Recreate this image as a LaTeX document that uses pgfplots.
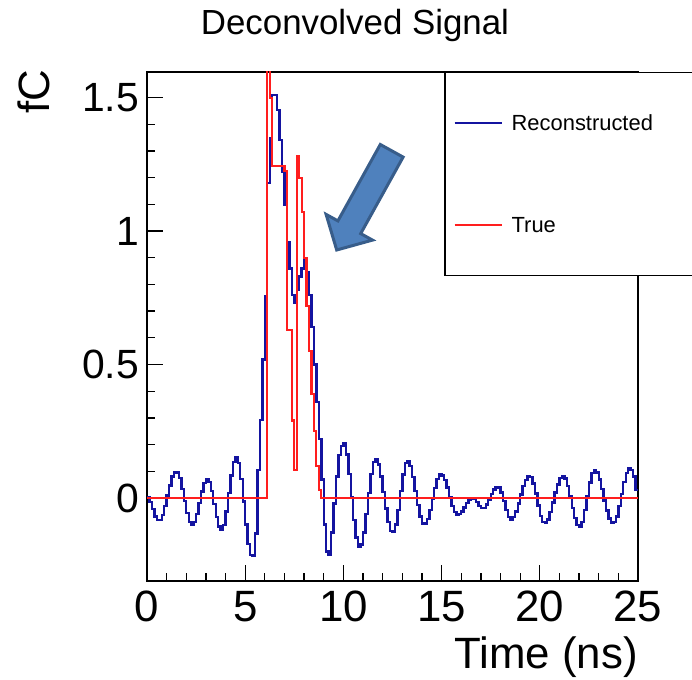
\documentclass[border=0pt]{standalone}
\usepackage{fontspec}
\setmainfont{Liberation Sans}
\usepackage{pgfplots}
\pgfplotsset{compat=1.18}
\definecolor{rootblue}{RGB}{20,20,160}
\definecolor{rootred}{RGB}{255,30,30}
\definecolor{arrowfill}{RGB}{79,129,189}
\definecolor{arrowedge}{RGB}{56,93,138}
\begin{document}
\begin{tikzpicture}
\path[use as bounding box] (0,0) rectangle (692bp,680bp);
\begin{axis}[
 at={(147bp,99bp)}, anchor=south west,
 scale only axis, width=491bp, height=509bp,
 xmin=0, xmax=25, ymin=-0.311, ymax=1.596,
 xtick={0,5,...,25}, ytick={0,0.5,1,1.5},
 minor x tick num=4, minor y tick num=4,
 tick pos=left, tick align=inside,
 major tick length=16bp, minor tick length=8bp,
 tick style={black, line width=1.3bp},
 axis line style={line width=2bp},
 /pgf/number format/assume math mode=true,
 xticklabel style={font=\fontsize{44}{48}\selectfont, inner sep=0pt, yshift=-10bp},
 yticklabel style={font=\fontsize{41}{46}\selectfont, inner sep=0pt, xshift=-8bp},
 title={Deconvolved Signal},
 title style={at={(rel axis cs:0.4236,1.0629)}, anchor=base, inner sep=0pt, font=\fontsize{35}{40}\selectfont},
 xlabel={Time (ns)},
 xlabel style={at={(rel axis cs:1,-0.171)}, anchor=base east, inner sep=0pt, font=\fontsize{44}{48}\selectfont},
 ylabel={fC},
 ylabel style={at={(rel axis cs:-0.1976,1.004)}, anchor=base east, inner sep=0pt, font=\fontsize{44}{50}\selectfont},
 legend style={at={(rel axis cs:0.6049,1)}, anchor=north west, draw=black, line width=1.5bp, fill=white,
   inner xsep=9bp, inner ysep=42bp, row sep=85bp, column sep=9bp,
   font=\fontsize{22}{26}\selectfont, nodes={inner sep=0pt}},
 legend cell align=left,
 legend image code/.code={\draw[#1] (0bp,0bp) -- (47bp,0bp);},
]
\addlegendimage{rootblue, line width=1.9bp}
\addlegendentry[text width=200bp]{Reconstructed}
\addlegendimage{rootred, line width=1.9bp}
\addlegendentry[text width=200bp]{True}
\addplot[rootblue, line width=2.4bp, const plot, no marks, forget plot] coordinates {
(0.0,0.003) (0.125,-0.015) (0.25,-0.041) (0.375,-0.069) (0.5,-0.083) (0.625,-0.082) (0.75,-0.063) (0.875,-0.030)
(1.0,0.009) (1.125,0.047) (1.25,0.080) (1.375,0.097) (1.5,0.096) (1.625,0.074) (1.75,0.034) (1.875,-0.012)
(2.0,-0.057) (2.125,-0.089) (2.25,-0.100) (2.375,-0.089) (2.5,-0.059) (2.625,-0.018) (2.75,0.024) (2.875,0.056)
(3.0,0.070) (3.125,0.060) (3.25,0.026) (3.375,-0.022) (3.5,-0.071) (3.625,-0.107) (3.75,-0.120) (3.875,-0.101)
(4.0,-0.050) (4.125,0.018) (4.25,0.085) (4.375,0.135) (4.5,0.153) (4.625,0.131) (4.75,0.071) (4.875,-0.013)
(5.0,-0.099) (5.125,-0.173) (5.25,-0.214) (5.375,-0.218) (5.5,-0.133) (5.625,0.105) (5.75,0.293) (5.875,0.519)
(6.0,0.757) (6.125,1.179) (6.25,1.348) (6.375,1.510) (6.5,1.510) (6.625,1.454) (6.75,1.341) (6.875,1.222)
(7.0,1.098) (7.125,0.960) (7.25,0.860) (7.375,0.760) (7.5,0.730) (7.625,0.780) (7.75,0.830) (7.875,0.860)
(8.0,0.894) (8.125,0.845) (8.25,0.760) (8.375,0.640) (8.5,0.500) (8.625,0.360) (8.75,0.220) (8.875,0.070)
(9.0,-0.100) (9.125,-0.200) (9.25,-0.214) (9.375,-0.130) (9.5,-0.020) (9.625,0.080) (9.75,0.160) (9.875,0.195)
(10.0,0.206) (10.125,0.163) (10.25,0.089) (10.375,0.004) (10.5,-0.082) (10.625,-0.148) (10.75,-0.181) (10.875,-0.174)
(11.0,-0.130) (11.125,-0.061) (11.25,0.018) (11.375,0.091) (11.5,0.135) (11.625,0.146) (11.75,0.126) (11.875,0.081)
(12.0,0.022) (12.125,-0.039) (12.25,-0.091) (12.375,-0.124) (12.5,-0.128) (12.625,-0.100) (12.75,-0.044) (12.875,0.026)
(13.0,0.088) (13.125,0.130) (13.25,0.138) (13.375,0.120) (13.5,0.079) (13.625,0.027) (13.75,-0.026) (13.875,-0.069)
(14.0,-0.096) (14.125,-0.098) (14.25,-0.079) (14.375,-0.045) (14.5,-0.004) (14.625,0.038) (14.75,0.071) (14.875,0.088)
(15.0,0.085) (15.125,0.068) (15.25,0.039) (15.375,0.003) (15.5,-0.030) (15.625,-0.053) (15.75,-0.064) (15.875,-0.061)
(16.0,-0.051) (16.125,-0.036) (16.25,-0.019) (16.375,-0.006) (16.5,0.000) (16.625,-0.003) (16.75,-0.015) (16.875,-0.030)
(17.0,-0.038) (17.125,-0.037) (17.25,-0.024) (17.375,-0.006) (17.5,0.015) (17.625,0.032) (17.75,0.042) (17.875,0.040)
(18.0,0.021) (18.125,-0.012) (18.25,-0.046) (18.375,-0.072) (18.5,-0.080) (18.625,-0.072) (18.75,-0.051) (18.875,-0.021)
(19.0,0.013) (19.125,0.044) (19.25,0.068) (19.375,0.081) (19.5,0.079) (19.625,0.055) (19.75,0.017) (19.875,-0.028)
(20.0,-0.067) (20.125,-0.091) (20.25,-0.094) (20.375,-0.080) (20.5,-0.052) (20.625,-0.017) (20.75,0.021) (20.875,0.051)
(21.0,0.075) (21.125,0.083) (21.25,0.073) (21.375,0.046) (21.5,0.005) (21.625,-0.037) (21.75,-0.074) (21.875,-0.101)
(22.0,-0.108) (22.125,-0.089) (22.25,-0.046) (22.375,0.005) (22.5,0.058) (22.625,0.094) (22.75,0.105) (22.875,0.095)
(23.0,0.069) (23.125,0.033) (23.25,-0.009) (23.375,-0.047) (23.5,-0.077) (23.625,-0.093) (23.75,-0.091) (23.875,-0.070)
(24.0,-0.031) (24.125,0.015) (24.25,0.060) (24.375,0.093) (24.5,0.111) (24.625,0.105) (24.75,0.080) (24.875,0.030)
(25.0,0.030)
};
\addplot[rootred, line width=2.2bp, const plot, no marks, forget plot] coordinates {
(0,0) (6.125,2.0) (6.25,1.5) (6.375,1.245) (7.0,1.225) (7.125,0.63) (7.375,0.29) (7.5,0.105)
(7.625,1.28) (7.75,1.20) (7.875,1.07) (8.0,0.90) (8.125,0.72) (8.25,0.55) (8.375,0.39) (8.5,0.25)
(8.625,0.12) (8.75,0.03) (8.875,0) (25,0)
};
\end{axis}
\draw[arrowedge, line width=3bp, fill=arrowfill, line join=miter]
 (403.1bp,522.9bp) -- (360.7bp,446.4bp) -- (372.5bp,439.9bp) -- (336.7bp,430.0bp)
 -- (326.1bp,465.6bp) -- (337.9bp,459.1bp) -- (380.3bp,535.5bp) -- cycle;
\end{tikzpicture}
\end{document}
